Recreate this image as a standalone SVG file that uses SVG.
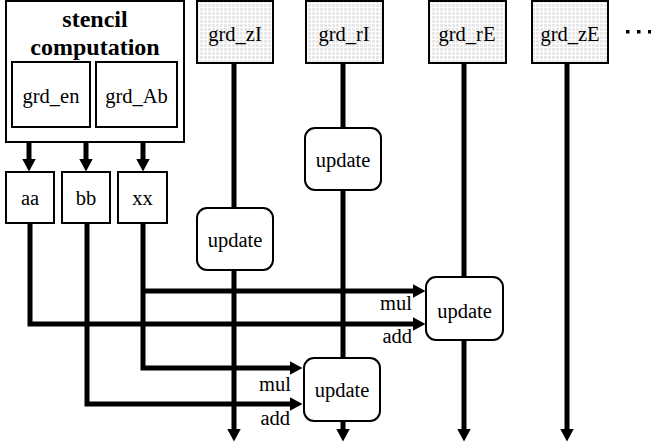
<svg xmlns="http://www.w3.org/2000/svg" width="651" height="446" viewBox="0 0 651 446">
<style>
text{font-family:'Liberation Serif','Times New Roman','DejaVu Serif',serif;fill:#000}
.lbl{font-size:20.5px;text-anchor:middle}
.sm{font-size:20.5px;text-anchor:end}
.ttl{font-size:24px;font-weight:bold;text-anchor:middle}
.box{fill:#fff;stroke:#000;stroke-width:2}
.grid{fill:url(#grid);stroke:#000;stroke-width:2}
.upd{fill:#fff;stroke:#000;stroke-width:2}
.wire{fill:none;stroke:#000;stroke-width:5;stroke-linejoin:miter}
.arr{marker-end:url(#ah)}
.dot{fill:#000}
</style>
<defs>
<pattern id="grid" width="4" height="4" patternUnits="userSpaceOnUse">
<rect width="4" height="4" fill="#fff"/>
<rect width="3" height="3" fill="#e8e8e8"/>
</pattern>
<marker id="ah" viewBox="0 0 13 14" markerWidth="13" markerHeight="14" markerUnits="userSpaceOnUse" refX="0.5" refY="7" orient="auto">
<path d="M0,0 L13,7 L0,14 z" fill="#000"/>
</marker>
</defs>
<rect width="651" height="446" fill="#fff"/>

<g id="connectors">
<path class="wire arr" d="M29,127 V159"/>
<path class="wire arr" d="M86,127 V159"/>
<path class="wire arr" d="M143,127 V159"/>
<path class="wire arr" d="M30,223 V324 H413"/>
<path class="wire arr" d="M87,223 V404 H290"/>
<path class="wire arr" d="M143,223 V368 H290"/>
<path class="wire arr" d="M143,291 H413"/>
<path class="wire" d="M234,63 V208"/>
<path class="wire arr" d="M234,270 V429"/>
<path class="wire" d="M343,63 V128"/>
<path class="wire" d="M343,190 V358"/>
<path class="wire arr" d="M343,421 V429"/>
<path class="wire" d="M464,63 V277"/>
<path class="wire arr" d="M464,340 V429"/>
<path class="wire arr" d="M567,63 V429"/>
<text class="sm" x="412" y="310" font-family="Liberation Serif, serif">mul</text>
<text class="sm" x="412" y="343" font-family="Liberation Serif, serif">add</text>
<text class="sm" x="291" y="391" font-family="Liberation Serif, serif">mul</text>
<text class="sm" x="290" y="425" font-family="Liberation Serif, serif">add</text>
</g>

<g id="stencil">
<rect class="box" x="6" y="1" width="178" height="141"/>
<text class="ttl" x="95" y="27">stencil</text>
<text class="ttl" x="95" y="55">computation</text>
</g>
<g id="grd_en">
<rect class="box" x="12" y="62" width="78" height="65"/>
<text class="lbl" x="51" y="103">grd_en</text>
</g>
<g id="grd_Ab">
<rect class="box" x="96" y="62" width="81" height="65"/>
<text class="lbl" x="136.5" y="103">grd_Ab</text>
</g>
<g id="aa">
<rect class="box" x="6" y="172" width="48" height="51"/>
<text class="lbl" x="30" y="205">aa</text>
</g>
<g id="bb">
<rect class="box" x="62" y="172" width="48" height="51"/>
<text class="lbl" x="86" y="205">bb</text>
</g>
<g id="xx">
<rect class="box" x="118" y="172" width="49" height="51"/>
<text class="lbl" x="142.5" y="205">xx</text>
</g>
<g id="grd_zI">
<rect class="grid" x="197" y="1" width="76" height="62"/>
<text class="lbl" x="235" y="41">grd_zI</text>
</g>
<g id="grd_rI">
<rect class="grid" x="306" y="1" width="77" height="62"/>
<text class="lbl" x="344" y="41">grd_rI</text>
</g>
<g id="grd_rE">
<rect class="grid" x="429" y="1" width="77" height="62"/>
<text class="lbl" x="467" y="41">grd_rE</text>
</g>
<g id="grd_zE">
<rect class="grid" x="532" y="1" width="76" height="62"/>
<text class="lbl" x="570" y="41">grd_zE</text>
</g>
<g id="more">
<rect class="dot" x="626" y="30" width="3.5" height="3.5"/>
<rect class="dot" x="637" y="30" width="3.5" height="3.5"/>
<rect class="dot" x="648" y="30" width="3.5" height="3.5"/>
</g>
<g id="update_zI">
<rect class="upd" x="197" y="208" width="76" height="62" rx="10"/>
<text class="lbl" x="235" y="247">update</text>
</g>
<g id="update_rI">
<rect class="upd" x="305" y="128" width="76" height="62" rx="10"/>
<text class="lbl" x="343" y="167">update</text>
</g>
<g id="update_rE">
<rect class="upd" x="426" y="277" width="77" height="63" rx="10"/>
<text class="lbl" x="464.5" y="318">update</text>
</g>
<g id="update_low">
<rect class="upd" x="304" y="358" width="76" height="63" rx="10"/>
<text class="lbl" x="342" y="397">update</text>
</g>
</svg>
